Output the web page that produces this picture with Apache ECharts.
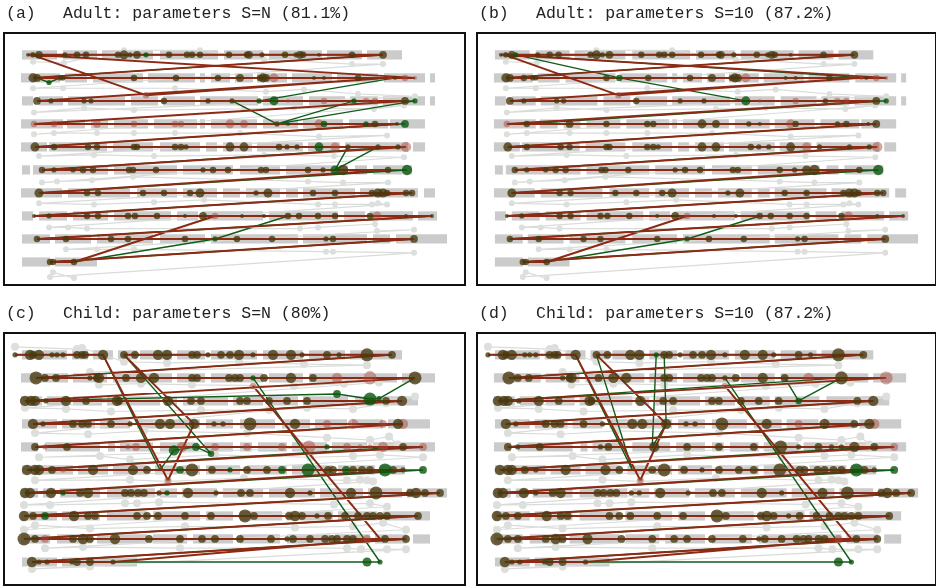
<!DOCTYPE html>
<html>
<head>
<meta charset="utf-8">
<script src="https://cdn.jsdelivr.net/npm/echarts@6/dist/echarts.min.js"></script>
<style>
html, body { margin: 0; padding: 0; background: #fff; }
#chart { width: 936px; height: 587px; }
</style>
</head>
<body>
<div id="chart"></div>
<script>
// panel headings
var panelLabels = ['(a)', '(b)', '(c)', '(d)'];
var panelTitles = ['Adult: parameters S=N (81.1%)', 'Adult: parameters S=10 (87.2%)',
                   'Child: parameters S=N (80%)', 'Child: parameters S=10 (87.2%)'];

// word boxes per text line: [start, end] (x in panel px)
var adultWords = [
  [[18,53],[59,93],[98,149],[156,214],[220,259],[265,318],[323,358],[363,398]],
  [[17,56],[61,83],[89,139],[144,191],[196,201],[207,226],[231,249],[253,283],[288,328],[333,374],[380,421],[426,431]],
  [[18,29],[35,59],[64,121],[127,154],[159,191],[196,254],[259,299],[305,341],[346,374],[379,421],[426,431]],
  [[17,59],[63,81],[87,104],[110,144],[150,193],[196,201],[207,253],[259,294],[299,339],[345,384],[386,421]],
  [[17,43],[45,103],[109,149],[156,196],[202,213],[219,248],[253,299],[304,336],[341,404],[409,421]],
  [[18,26],[29,104],[110,173],[179,229],[236,276],[282,344],[351,363],[369,408]],
  [[17,58],[64,126],[133,173],[179,213],[219,236],[242,276],[282,294],[299,351],[356,414],[420,431]],
  [[18,29],[35,63],[69,104],[110,167],[173,194],[198,259],[265,334],[340,361],[366,409],[414,433]],
  [[18,46],[51,87],[93,149],[156,201],[207,294],[299,363],[369,386],[392,443]],
  [[18,46],[51,93]]
];
var childWords = [
  [[18,38],[39,63],[68,84],[89,109],[114,133],[136,168],[173,201],[207,253],[259,299],[305,341],[346,398]],
  [[17,64],[69,103],[109,168],[173,201],[207,259],[265,299],[305,363],[369,393],[398,431]],
  [[17,38],[43,64],[69,98],[103,156],[161,173],[179,224],[229,259],[265,294],[299,344],[351,414]],
  [[18,53],[58,91],[96,126],[133,196],[202,229],[236,271],[278,306],[311,343],[348,379],[384,426]],
  [[17,34],[41,96],[104,111],[116,149],[156,194],[200,229],[236,248],[254,283],[288,323],[328,363],[369,431]],
  [[18,69],[74,104],[109,144],[151,173],[178,196],[202,236],[243,283],[288,329],[334,371],[376,401]],
  [[17,34],[39,51],[56,96],[103,151],[156,173],[178,213],[219,259],[265,311],[316,359],[364,398],[403,443]],
  [[17,53],[58,96],[103,143],[149,196],[202,229],[236,278],[283,329],[334,373],[379,426]],
  [[17,46],[53,88],[93,143],[149,183],[189,229],[236,276],[283,326],[331,366],[371,403],[409,426]],
  [[18,53],[58,133]]
];

// light grey reference scanpath: [x, line]
var adultGray = [
  [29,1.3],[60,1.35],[120,0.8],[196,0.8],[260,1.2],[348,1.4],[379,1.4],
  [29,2.45],[59,2.45],[171,2.45],[262,2.6],[300,2.5],[354,2.7],[411,2.8],
  [30,3.5],[80,3.3],[130,3.4],[240,3.35],[290,3.3],[370,3.35],[400,3.2],
  [30,4.45],[50,4.4],[93,4.4],[130,4.4],[171,4.4],[236,4.4],[315,4.55],[383,4.5],
  [35,5.4],[90,5.35],[150,5.4],[260,5.35],[330,5.4],[400,5.45],
  [38,6.55],[53,6.5],[88,6.45],[129,6.3],[304,6.5],[339,6.55],[384,6.55],
  [35,7.45],[90,7.5],[150,7.4],[200,7.3],[314,7.5],[331,7.5],[368,7.5],[374,7.45],[383,7.5],
  [45,8.5],[64,8.5],[83,8.55],[296,8.55],[314,8.5],[371,8.35],[373,8.65],[410,8.6],
  [62,9.45],[93,9.45],[130,9.45],[322,9.55],[329,9.55],[410,9.6],
  [46,10.65],[49,10.45],[70,10.7]
];
var childGray = [
  [11,0.65],[73,0.75],[78,0.7],[120,1.3],[163,1.35],[235,1.3],[300,1.4],[363,1.45],
  [86,1.75],[95,2.3],[137,2.25],[188,2.3],[290,2.35],[340,2.25],[366,1.85],[375,2.2],
  [21,3.3],[62,3.35],[107,3.46],[197,3.4],[265,3.4],[303,3.3],[349,3.35],[382,3.1],[411,2.81],
  [31,4.4],[84,4.45],[140,4.3],[243,4.4],[323,4.6],[366,4.7],[385,4.55],[394,4.9],
  [35,5.45],[96,5.4],[126,5.55],[211,5.35],[306,5.45],[349,5.4],[376,5.35],[419,5.45],
  [31,6.45],[126,6.43],[164,6.5],[240,6.35],[343,6.45],[356,6.43],[363,6.45],[369,6.5],
  [20,7.52],[46,7.52],[121,7.45],[133,7.45],[155,7.4],[330,7.5],[366,7.45],[383,7.6],
  [20,8.6],[31,8.4],[86,8.55],[181,8.45],[291,8.5],[349,8.45],[379,8.3],[402,8.6],
  [41,9.4],[79,9.35],[176,9.4],[343,9.4],[357,9.45],[383,9.45],[402,9.45],
  [28,10.3],[86,10.2]
];

// fixations in time order: [x, line, diameter, flags]
// one flag per panel: b = human+model, h = human only, m = model only, - = absent
var adultFix = [
  [24,1,3,'bb'],[29,1,4,'bb'],[35,1,6,'bb'],[61,1,4,'bb'],[73,1,5,'bb'],[82,1,5,'bb'],[114,1,5,'bb'],[120,1,7,'bb'],
  [126,1,4,'bb'],[133,1,6,'bb'],[142,1,4,'m-'],[165,1,5,'bb'],[183,1,5,'bb'],[188,1,5,'bb'],[196,1,5,'bb'],[225,1,5,'bb'],
  [243,1,5,'bb'],[245,1,6,'bb'],[258,1,4,'bb'],[281,1,5,'bb'],[292,1,4,'bb'],[296,1,6,'bb'],[299,1,5,'bb'],[315,1,3,'bb'],
  [348,1,5,'bb'],[379,1,6,'bb'],
  [29,2,7,'bb'],[33,2,6,'bb'],[45,2.2,4,'m-'],[47,2,5,'-b'],[56,2,4,'bb'],[59,2,4,'bb'],[130,2,5,'bb'],[172,2,5,'bb'],
  [214,2,5,'bb'],[236,2,6,'bb'],[256,2,5,'bb'],[259,2,7,'bb'],[262,2,6,'bb'],[270,2,7,'hh'],[310,2,3,'bb'],[320,2,3,'bb'],
  [354,2,5,'bb'],[391,2,3,'bb'],[401,2,5,'hh'],[411,2,3,'hh'],
  [28,1,4,'hh'],[39,1,4,'-m'],[142,2.75,5,'hh'],[143,2,5,'-m'],[386,2,3,'hh'],[255,3,4,'m-'],[270,3,7,'mm'],
  [33,3,6,'bb'],[47,3,4,'bb'],[80,3,4,'bb'],[87,3,4,'bb'],[160,3,5,'bb'],[204,3,4,'bb'],[228,3,4,'bb'],[273,4,0,'m-'],
  [284,3,3,'hh'],[320,3,5,'hh'],[350,3,4,'mb'],[362,3,5,'hh'],[371,3,5,'hh'],[401,3,6,'bb'],[411,3,4,'mm'],
  [30,4,5,'hh'],[50,4,5,'hb'],[93,4,6,'hb'],[130,4,5,'hb'],[171,4,5,'hb'],[177,4,5,'hb'],[226,4,7,'hb'],[240,4,6,'hb'],
  [273,4,4,'bb'],[284,4,3,'mb'],[315,4,7,'hh'],[320,4,5,'mb'],[362,4,4,'mb'],[371,4,5,'bb'],[393,4,3,'bb'],[401,4,6,'mb'],
  [31,5,7,'bb'],[50,5,5,'bb'],[84,5,5,'bb'],[93,5,5,'bb'],[130,5,5,'bb'],[133,5,5,'bb'],[171,5,5,'bb'],[177,5,5,'bb'],
  [182,5,4,'bb'],[226,5,7,'bb'],[240,5,7,'bb'],[275,5,5,'bb'],[283,5,4,'bb'],[293,5,4,'bb'],[315,5,7,'mb'],[331,5,7,'hh'],
  [344,5,4,'bb'],[331,6,0,'m-'],[374,5,4,'bb'],[394,5,4,'bb'],[402,5,8,'hh'],
  [38,6,5,'bb'],[50,6,4,'bb'],[69,6,4,'bb'],[79,6,5,'bb'],[89,6,5,'bb'],[125,6,5,'bb'],[129,6,5,'bb'],[152,6,5,'bb'],
  [199,6,4,'bb'],[209,6,5,'bb'],[224,6,5,'bb'],[257,6,5,'bb'],[262,6,5,'bb'],[304,6,5,'bb'],[319,6,4,'bb'],[331,6,7,'mb'],
  [339,6,8,'bb'],[384,6,5,'bb'],[403,6,8,'mm'],
  [35,7,7,'bb'],[83,7,5,'bb'],[94,7,5,'bb'],[139,7,5,'bb'],[160,7,5,'bb'],[186,7,5,'bb'],[196,7,7,'bb'],[252,7,4,'bb'],
  [264,7,7,'bb'],[309,7,5,'bb'],[331,7,5,'bb'],[368,7,5,'bb'],[374,7,7,'bb'],[379,7,7,'bb'],[383,7,5,'bb'],[402,7,5,'bb'],
  [408,7,5,'bb'],
  [30,8,3,'bb'],[45,8,4,'bb'],[83,8,5,'bb'],[94,8,5,'bb'],[124,8,5,'bb'],[131,8,5,'bb'],[153,8,5,'bb'],[181,8,3,'bb'],
  [199,8,6,'bb'],[238,8,3,'bb'],[260,8,3,'bb'],[284,8,5,'bb'],[295,8,5,'bb'],[314,8,5,'bb'],[331,8,5,'bb'],[366,8,5,'bb'],
  [373,8,7,'hh'],[402,8,3,'bb'],[428,8,3,'bb'],
  [33,9,5,'bb'],[62,9,5,'bb'],[107,9,5,'bb'],[124,9,5,'bb'],[181,9,5,'bb'],[233,9,5,'bb'],[268,9,5,'bb'],[322,9,4,'bb'],
  [329,9,5,'bb'],[410,9,6,'bb'],
  [46,10,5,'bb'],[49,10,5,'bb'],[70,10,5,'bb'],[211,9,4,'mm'],[284,8,0,'mm'],[211,8,5,'hh']
];
var childFix = [
  [11,1,4,'bb'],[26,1,8,'bb'],[29,1,6,'bb'],[35,1,8,'bb'],[48,1,4,'bb'],[53,1,4,'bb'],[59,1,4,'bb'],[73,1,6,'bb'],
  [78,1,6,'bb'],[81,1,6,'bb'],[99,1,8,'bb'],
  [164,6.45,5,'hh'],[156,6,0,'mm'],[170,5.15,8,'m-'],[192,5,6,'m-'],[207,5.3,5,'m-'],[190,4,0,'hh'],
  [120,1,6,'bb'],[131,1,6,'bb'],[154,1,8,'bb'],[163,1,8,'bb'],[180,1,4,'-m'],[176,5,0,'-m'],[190,4,0,'-m'],[188,1,6,'bb'],
  [193,1,6,'bb'],[204,1,4,'bb'],[217,1,6,'bb'],[226,1,6,'bb'],[235,1,8,'bb'],[249,1,4,'bb'],[269,1,8,'bb'],[287,1,8,'bb'],
  [298,1,4,'bb'],[323,1,6,'bb'],[335,1,4,'bb'],[363,1,10,'bb'],[388,1,6,'bb'],
  [32,2,10,'bb'],[41,2,6,'bb'],[52,2,6,'bb'],[86,2,4,'bb'],[93,2,6,'bb'],[95,2,8,'bb'],[122,2,6,'bb'],[137,2,8,'bb'],
  [150,2,8,'bb'],[188,2,6,'bb'],[193,2,6,'bb'],[225,2,6,'bb'],[231,2,6,'bb'],[236,2,6,'bb'],[249,2,4,'mb'],[260,2,6,'bb'],
  [287,2,8,'bb'],[309,2,6,'bb'],[323,3,5,'-m'],[333,2,8,'hh'],[366,2,10,'hb'],[411,2,10,'bh'],
  [375,2.9,4,'m-'],[366,2.92,10,'m-'],[333,2.7,6,'m-'],
  [21,3,8,'bb'],[27,3,8,'bb'],[31,3,8,'bb'],[42,3,4,'bb'],[62,3,8,'bb'],[82,3,6,'bb'],[113,3,8,'bb'],[115,3,6,'bb'],
  [164,3,8,'bb'],[187,3,6,'bb'],[197,3,6,'bb'],[236,3,6,'bb'],[243,3,6,'bb'],[265,3,6,'bb'],[283,3,6,'bb'],[303,3,6,'bb'],
  [382,3,6,'bb'],[398,3,8,'bb'],
  [29,4,8,'bb'],[39,4,4,'bb'],[69,4,6,'bb'],[78,4,6,'bb'],[84,4,6,'bb'],[107,4,6,'bb'],[126,4,4,'bb'],[156,4,8,'bb'],
  [166,4,8,'bb'],[190,4,8,'bb'],[210,4,4,'bb'],[219,4,4,'bb'],[246,4,10,'bb'],[291,4,8,'bb'],[323,4,6,'hh'],[349,4,8,'hb'],
  [379,4,6,'hb'],[394,4,8,'bb'],[399,4,8,'hh'],
  [31,5,6,'bb'],[41,5,4,'hb'],[63,5,6,'bb'],[124,5,4,'hb'],[132,5,6,'hb'],[178,5,8,'hb'],[211,5,6,'hb'],[243,5,6,'hb'],
  [278,5,6,'hb'],[305,5,10,'hb'],[323,5,4,'mb'],[343,5,6,'hb'],[356,5,4,'hb'],[366,5,4,'hb'],[379,5,8,'hb'],[399,5,6,'bb'],
  [419,5,6,'hh'],
  [23,6,8,'bb'],[31,6,8,'bb'],[35,6,8,'bb'],[48,6,6,'bb'],[59,6,4,'hb'],[89,6,8,'bb'],[129,6,8,'bb'],[143,6,6,'bb'],
  [176,6,6,'mb'],[188,6,10,'bb'],[208,6,6,'bb'],[226,6,4,'mb'],[243,6,6,'bb'],[263,6,6,'bb'],[278,6,6,'mb'],[304,6,10,'mb'],
  [324,6,6,'bb'],[329,6,6,'bb'],[342,6,6,'mb'],[349,6,6,'bb'],[358,6,6,'bb'],[366,6,6,'bb'],[381,6,10,'mm'],[389,6,6,'bb'],
  [399,6,4,'bb'],[419,6,6,'mm'],
  [21,7,8,'bb'],[26,7,8,'bb'],[47,7,8,'bb'],[59,7,4,'mb'],[76,7,6,'bb'],[84,7,8,'bb'],[121,7,6,'bb'],[127,7,6,'bb'],
  [134,7,6,'bb'],[140,7,6,'bb'],[155,7,4,'bb'],[163,7,4,'mb'],[184,7,8,'bb'],[212,7,4,'bb'],[237,7,6,'bb'],[246,7,6,'bb'],
  [286,7,8,'bb'],[306,7,4,'bb'],[347,7,8,'bb'],[372,7,10,'bb'],[406,7,6,'bb'],[412,7,8,'bb'],[421,7,6,'bb'],[436,7,6,'bb'],
  [20,8,8,'bb'],[29,8,6,'bb'],[41,8,6,'mb'],[70,8,8,'bb'],[84,8,6,'bb'],[91,8,6,'bb'],[133,8,6,'bb'],[143,8,6,'bb'],
  [154,8,6,'bb'],[181,8,6,'bb'],[207,8,6,'bb'],[241,8,10,'bb'],[250,8,6,'bb'],[285,8,6,'bb'],[291,8,8,'bb'],[298,8,6,'bb'],
  [313,8,4,'bb'],[324,8,6,'bb'],[341,8,6,'bb'],[354,8,6,'bb'],[363,8,6,'bb'],[369,8,6,'bb'],[376,8,6,'bb'],[383,8,6,'bb'],
  [414,8,6,'bb'],
  [20,9,10,'bb'],[31,9,6,'bb'],[41,9,6,'hb'],[69,9,6,'bb'],[79,9,8,'bb'],[86,9,6,'bb'],[111,9,8,'bb'],[145,9,6,'bb'],
  [176,9,6,'bb'],[198,9,6,'bb'],[211,9,6,'bb'],[236,9,6,'bb'],[267,9,6,'bb'],[283,9,4,'bb'],[289,9,6,'bb'],[306,9,6,'bb'],
  [321,9,6,'bb'],[328,9,6,'bb'],[333,9,6,'bb'],[343,9,6,'bb'],[349,9,6,'bb'],[363,9,6,'hh'],[381,9,6,'bb'],[402,9,6,'bb'],
  [28,10,8,'bb'],[35,10,4,'bb'],[43,10,4,'bb'],[68,10,4,'bb'],[73,10,6,'bb'],[86,10,6,'bb'],[109,10,4,'bb'],
  [363,10,7,'mm'],[376,10,4,'mm'],[376,9,0,'hh'],[249,2.35,5,'hh'],[249,2,0,'mm']
];

var chart = echarts.init(document.getElementById('chart'), null, { renderer: 'canvas' });

var panels = [
  { left: 4,   top: 33,  words: adultWords, gray: adultGray, fix: adultFix, flag: 0, graySize: 6 },
  { left: 477, top: 33,  words: adultWords, gray: adultGray, fix: adultFix, flag: 1, graySize: 6 },
  { left: 4,   top: 333, words: childWords, gray: childGray, fix: childFix, flag: 0, graySize: 8 },
  { left: 477, top: 333, words: childWords, gray: childGray, fix: childFix, flag: 1, graySize: 8 }
];
var dotScale = 1.3;

var grids = [], xAxes = [], yAxes = [], series = [], graphics = [];

panels.forEach(function (p, i) {
  grids.push({ left: p.left, top: p.top, width: 461, height: 252, show: true,
               borderColor: '#111', borderWidth: 2, backgroundColor: '#fff' });
  xAxes.push({ type: 'value', gridIndex: i, min: 0, max: 461, show: false });
  yAxes.push({ type: 'value', gridIndex: i, min: 0.05, max: 11, inverse: true, show: false });

  var boxes = [];
  p.words.forEach(function (row, k) {
    row.forEach(function (w) { boxes.push([w[0], w[1], k + 1]); });
  });

  var human = [], model = [], pink = [], dark = [], green = [];
  p.fix.forEach(function (f) {
    var t = f[3].charAt(p.flag);
    if (t === 'b' || t === 'h') human.push([f[0], f[1]]);
    if (t === 'b' || t === 'm') model.push([f[0], f[1]]);
    if (f[2] > 0) {
      if (t === 'h') pink.push([f[0], f[1], f[2]]);
      else if (t === 'b') dark.push([f[0], f[1], f[2]]);
      else if (t === 'm') green.push([f[0], f[1], f[2]]);
    }
  });

  var base = { xAxisIndex: i, yAxisIndex: i, silent: true, animation: false };

  series.push(Object.assign({}, base, {
    type: 'custom', data: boxes, encode: { x: [0, 1], y: 2 }, z: 1,
    renderItem: function (params, api) {
      var p0 = api.coord([api.value(0), api.value(2) - 0.2]);
      var p1 = api.coord([api.value(1), api.value(2) + 0.2]);
      return { type: 'rect', shape: { x: p0[0], y: p0[1], width: p1[0] - p0[0], height: p1[1] - p0[1] },
               style: { fill: '#cbcbcb' } };
    }
  }));
  series.push(Object.assign({}, base, {
    type: 'line', data: p.gray, z: 2, symbol: 'circle', symbolSize: p.graySize,
    lineStyle: { color: '#d9dcd9', width: 1.2 }, itemStyle: { color: '#dcdfdc' }
  }));
  series.push(Object.assign({}, base, {
    type: 'line', data: model, z: 3, showSymbol: false,
    lineStyle: { color: '#0f5e17', width: 1.4 }
  }));
  series.push(Object.assign({}, base, {
    type: 'line', data: human, z: 4, showSymbol: false,
    lineStyle: { color: '#8c2a13', width: 2 }
  }));
  [[pink, 'rgba(165,70,55,0.6)'], [dark, '#4a3a10'], [green, '#0a560c']].forEach(function (s, j) {
    series.push(Object.assign({}, base, {
      type: 'scatter', data: s[0], z: 5 + j,
      symbolSize: function (v) { return v[2] * dotScale; },
      itemStyle: { color: s[1] }
    }));
  });

  var ty = p.top - 19;
  graphics.push({ type: 'text', x: p.left + 2, y: ty,
                  style: { text: panelLabels[i], font: '16.5px "Liberation Mono"', fill: '#222', verticalAlign: 'middle' } });
  graphics.push({ type: 'text', x: p.left + 59, y: ty,
                  style: { text: panelTitles[i], font: '16.5px "Liberation Mono"', fill: '#222', verticalAlign: 'middle' } });
});

chart.setOption({
  animation: false,
  backgroundColor: '#fff',
  grid: grids,
  xAxis: xAxes,
  yAxis: yAxes,
  series: series,
  graphic: graphics
});
</script>
</body>
</html>
